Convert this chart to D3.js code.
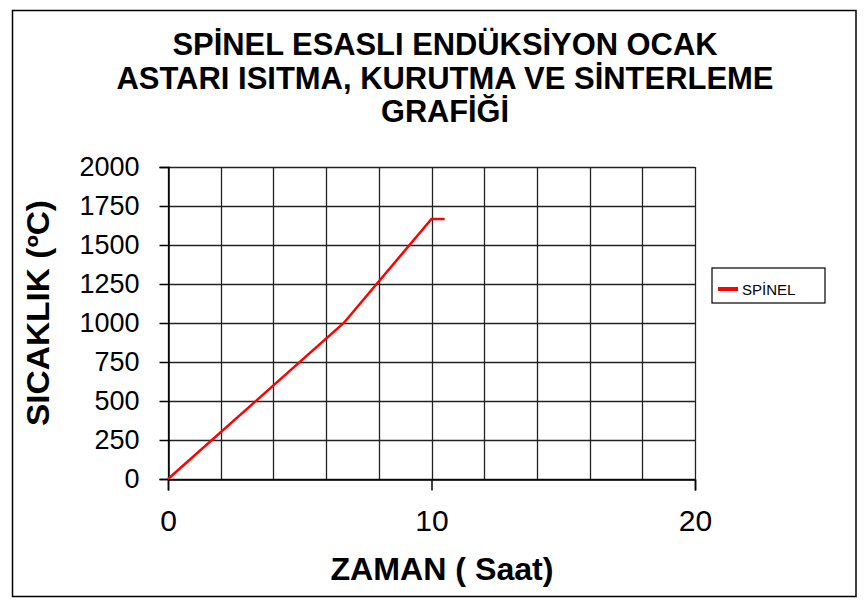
<!DOCTYPE html>
<html>
<head>
<meta charset="utf-8">
<script src="https://cdn.jsdelivr.net/npm/d3@7"></script>
<style>
  body { margin: 0; background: #fff; }
  text { font-family: "Liberation Sans", Arial, sans-serif; }
</style>
</head>
<body>
<script>
var WIDTH = 867;
var HEIGHT = 609;

// data
var hours = [0, 6.67, 10, 10.5];
var temps = [0, 1000, 1667, 1667];
var xTicks = [0, 10, 20];
var yTicks = [0, 250, 500, 750, 1000, 1250, 1500, 1750, 2000];
var xGrid = [0, 2, 4, 6, 8, 10, 12, 14, 16, 18, 20];
var titleLines = ["SPİNEL ESASLI ENDÜKSİYON OCAK", "ASTARI ISITMA, KURUTMA VE SİNTERLEME", "GRAFİĞİ"];
var seriesName = "SPİNEL";

var margin = { left: 168, right: 172, top: 167, bottom: 130 };

var x = d3.scaleLinear().domain([0, 20]).range([margin.left, WIDTH - margin.right]);
var y = d3.scaleLinear().domain([0, 2000]).range([HEIGHT - margin.bottom, margin.top]);

var svg = d3.select("body")
            .append("svg")
            .attr("width", WIDTH)
            .attr("height", HEIGHT);

// outer frame
svg.append("rect")
   .attr("x", 12.5).attr("y", 10.5)
   .attr("width", 843.5).attr("height", 586)
   .attr("fill", "#fff")
   .attr("stroke", "#000")
   .attr("stroke-width", 1.5);

// title, squeezed like the original
var titleW = [545, 657, 128];
svg.selectAll("text.title")
   .data(titleLines)
   .enter()
   .append("text")
   .classed("title", true)
   .attr("x", 445)
   .attr("y", (d, i) => 55 + i * 33.5)
   .attr("text-anchor", "middle")
   .attr("font-size", 31)
   .attr("font-weight", "bold")
   .attr("textLength", (d, i) => titleW[i])
   .attr("lengthAdjust", "spacingAndGlyphs")
   .text(d => d);

// grid
svg.selectAll("line.hgrid")
   .data(yTicks)
   .enter()
   .append("line")
   .attr("x1", x(0)).attr("x2", x(20))
   .attr("y1", d => Math.round(y(d)) + 0.5).attr("y2", d => Math.round(y(d)) + 0.5)
   .attr("stroke", "#222")
   .attr("stroke-width", 1.3);

svg.selectAll("line.vgrid")
   .data(xGrid)
   .enter()
   .append("line")
   .attr("x1", d => Math.round(x(d)) + 0.5).attr("x2", d => Math.round(x(d)) + 0.5)
   .attr("y1", y(0)).attr("y2", y(2000))
   .attr("stroke", "#222")
   .attr("stroke-width", 1.3);

// axes
var yAxis = d3.axisLeft(y).tickValues(yTicks).tickFormat(d3.format("d")).tickSize(9).tickPadding(20);
var gy = svg.append("g")
            .attr("transform", "translate(" + (x(0) + 0.5) + ",0)")
            .call(yAxis);
gy.selectAll("text").attr("font-size", 27).attr("fill", "#000").attr("font-family", "Liberation Sans, Arial, sans-serif");
gy.selectAll("line, path").attr("stroke", "#000").attr("stroke-width", 1.5);

var xAxis = d3.axisBottom(x).tickValues(xTicks).tickFormat(d3.format("d")).tickSize(11).tickPadding(19);
var gx = svg.append("g")
            .attr("transform", "translate(0," + (y(0) + 0.5) + ")")
            .call(xAxis);
gx.selectAll("text").attr("font-size", 30).attr("fill", "#000").attr("font-family", "Liberation Sans, Arial, sans-serif");
gx.selectAll("line, path").attr("stroke", "#000").attr("stroke-width", 1.5);

// axis titles
svg.append("text")
   .attr("x", 442)
   .attr("y", 580)
   .attr("text-anchor", "middle")
   .attr("font-size", 31)
   .attr("font-weight", "bold")
   .attr("textLength", 223)
   .attr("lengthAdjust", "spacingAndGlyphs")
   .text("ZAMAN ( Saat)");

svg.append("text")
   .attr("transform", "translate(49,313) rotate(-90)")
   .attr("text-anchor", "middle")
   .attr("font-size", 31)
   .attr("font-weight", "bold")
   .attr("textLength", 226)
   .attr("lengthAdjust", "spacingAndGlyphs")
   .text("SICAKLIK  (ºC)");

// series
var line = d3.line()
             .x((d, i) => x(hours[i]))
             .y(d => y(d));

svg.append("path")
   .datum(temps)
   .attr("d", line)
   .attr("fill", "none")
   .attr("stroke", "#ff0000")
   .attr("stroke-width", 2.5);

// legend
var lg = svg.append("g").attr("transform", "translate(712,268)");
lg.append("rect")
  .attr("width", 113).attr("height", 35)
  .attr("fill", "#fff")
  .attr("stroke", "#000")
  .attr("stroke-width", 1.2);
lg.append("line")
  .attr("x1", 6).attr("x2", 26)
  .attr("y1", 21).attr("y2", 21)
  .attr("stroke", "#ff0000")
  .attr("stroke-width", 4);
lg.append("text")
  .attr("x", 30).attr("y", 27)
  .attr("font-size", 15)
  .text(seriesName);
</script>
</body>
</html>
